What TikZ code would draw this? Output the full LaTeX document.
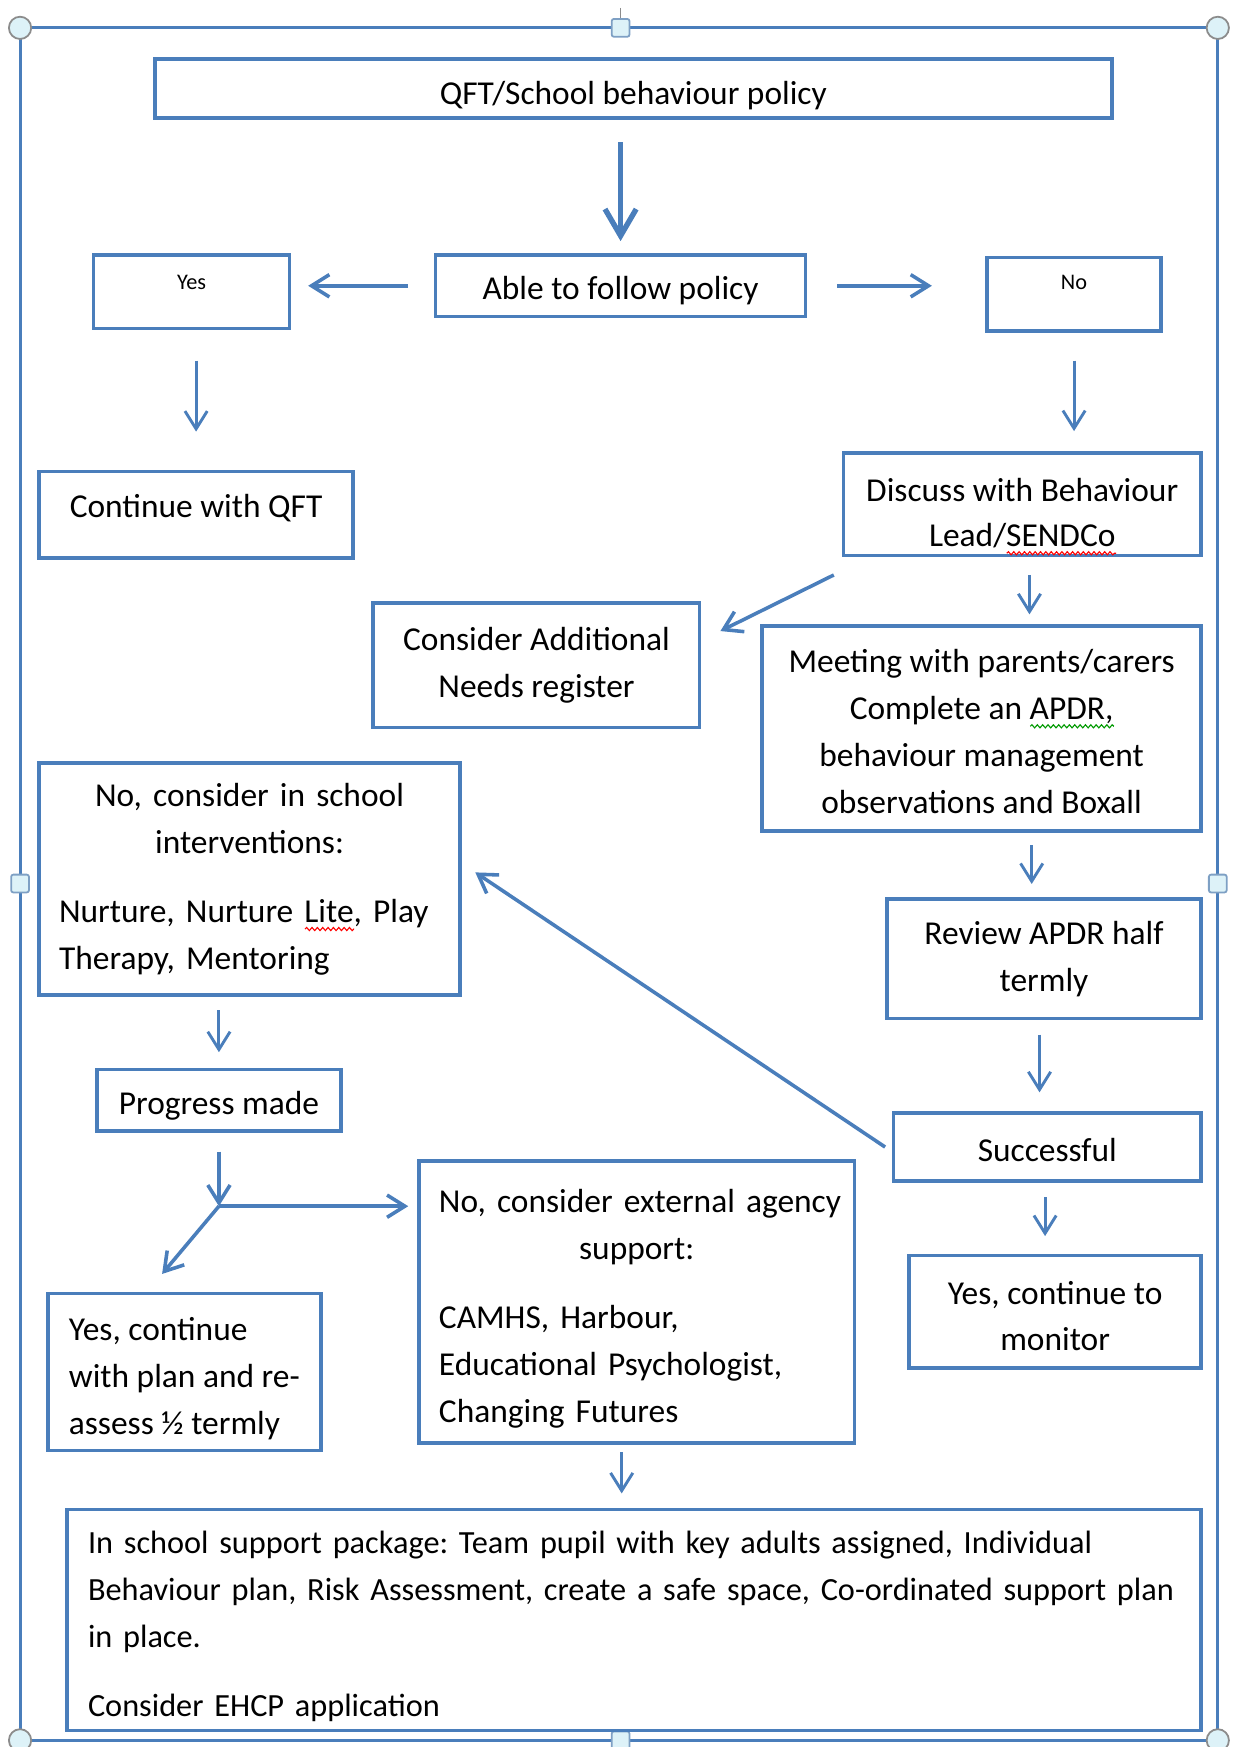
\documentclass[tikz,border=0pt]{standalone}
\usepackage{fontspec}
\setmainfont{Carlito}
\usepackage{tikz}
\usetikzlibrary{positioning,arrows.meta,decorations.pathmorphing}
\definecolor{wordblue}{RGB}{74,126,187}
\definecolor{handlefill}{RGB}{221,242,248}
\definecolor{handlegrey}{RGB}{140,140,140}
\definecolor{handleblue}{RGB}{126,160,196}
\frenchspacing
\newsavebox\wavebox
\newcommand\wavyword[2]{\sbox\wavebox{#2}\rlap{\tikz[baseline=0pt]\draw[#1, line width=0.5pt, decorate, decoration={snake, amplitude=0.7pt, segment length=2.4pt}] (0pt,-3pt) -- (\wd\wavebox,-3pt);}\usebox\wavebox}

\begin{document}
\begin{tikzpicture}[x=0.5pt, y=-0.5pt,
boxnode/.style={rectangle, draw=wordblue, line width=1.6pt, align=center, font=\fontsize{15}{21}\selectfont},
smallnode/.style={boxnode, font=\fontsize{10}{12}\selectfont},
linkarrow/.style={draw=wordblue, line width=1.3pt, -{Straight Barb[length=8pt,width=10pt]}},
midarrow/.style={linkarrow, line width=1.6pt},
boldarrow/.style={linkarrow, line width=2.4pt, -{Straight Barb[length=12pt,width=14pt]}}
]
\useasboundingbox (0,0) rectangle (1107,1568);

\draw[wordblue, line width=1.3pt] (18,25) rectangle (1093,1562);
\draw[handlegrey, line width=0.6pt] (557,7) -- (557,17);
\foreach \hx/\hy in {18/25, 1093/25, 18/1562, 1093/1562}
  \draw[handlegrey, fill=handlefill, line width=0.8pt] (\hx,\hy) circle (5pt);
\foreach \hx/\hy in {557/25, 18/793, 1093/793, 557/1562}
  \draw[handleblue, fill=handlefill, line width=0.8pt, rounded corners=1pt] (\hx-8,\hy-8) rectangle (\hx+8,\hy+8);

\node[boxnode, minimum width=429.5pt, minimum height=26.5pt] (qft) at (568.5,79.5) {\rule{0pt}{16.5pt}QFT/School behaviour policy};
\node[boxnode, minimum width=166pt, minimum height=27.5pt] (able) at (557,256.5) {\rule{0pt}{14.5pt}Able to follow policy};
\node[smallnode, minimum width=88pt, minimum height=33pt, text height=7pt, text depth=9.6pt] (yes) at (172,262) {Yes};
\node[smallnode, minimum width=78pt, minimum height=33pt, text height=7pt, text depth=11.6pt] (no) at (964,264) {No};
\node[boxnode, minimum width=141pt, minimum height=39pt, text height=10pt, text depth=7.4pt] (cont) at (176,462) {Continue with QFT};
\node[boxnode, minimum width=160.5pt, minimum height=45.5pt, inner ysep=0pt] (discuss) at (917.5,452.5) {\rule{0pt}{22pt}Discuss with Behaviour\\[-1pt]Lead/\wavyword{red}{SENDCo}\rule[-3.5pt]{0pt}{3.5pt}};
\node[boxnode, minimum width=146.5pt, minimum height=56pt] (addneeds) at (481.5,597) {Consider Additional\\Needs register};
\node[boxnode, minimum width=197pt, minimum height=92pt] (meeting) at (881,654) {\rule{0pt}{13pt}Meeting with parents/carers\\Complete an \wavyword{green!60!black}{APDR,}\\behaviour management\\observations and Boxall};
\node[boxnode, minimum width=141pt, minimum height=53.5pt] (review) at (937,860.5) {Review APDR half\\termly};
\node[boxnode, minimum width=138pt, minimum height=30.5pt] (success) at (940,1029.5) {\rule{0pt}{13pt}Successful};
\node[boxnode, minimum width=131pt, minimum height=50.5pt] (monitor) at (947,1177.5) {\rule{0pt}{14pt}Yes, continue to\\monitor};
\node[boxnode, minimum width=189pt, minimum height=104pt, align=left, inner xsep=9pt, text width=171pt] (inschool) at (224,789)
  {\centering No, consider in school\\interventions:\par\vspace{10pt}\raggedright Nurture, Nurture \wavyword{red}{Lite}, Play\\Therapy, Mentoring};
\node[boxnode, minimum width=109.5pt, minimum height=27.5pt] (progress) at (196.5,987.5) {\rule{0pt}{15.5pt}Progress made};
\node[boxnode, minimum width=122.5pt, minimum height=70.5pt, align=left] (contplan) at (165.5,1231.5) {\rule{0pt}{16pt}Yes, continue\\with plan and re-\\assess ½ termly};
\node[boxnode, minimum width=195.5pt, minimum height=126.5pt, align=left, inner xsep=9pt, text width=177.5pt] (external) at (571.5,1168.5)
  {\centering\rule{0pt}{16.5pt}\mbox{No, consider external agency}\\support:\par\vspace{10pt}\raggedright CAMHS, Harbour,\\Educational Psychologist,\\Changing Futures};
\node[boxnode, minimum width=509pt, minimum height=99pt, align=left, inner xsep=9.5pt, text width=490pt, font=\fontsize{14.5}{21}\selectfont] (package) at (569,1454)
  {\rule{0pt}{16pt}In school support package: Team pupil with key adults assigned, Individual\\Behaviour plan, Risk Assessment, create a safe space, Co-ordinated support plan\\in place.\par\vspace{10pt}Consider EHCP application};

\coordinate[below=33pt of progress.south] (split);

\draw[boldarrow, shorten <=10pt, shorten >=5.5pt] (able.north |- qft.south) -- (able.north);
\draw[midarrow, shorten <=11.5pt, shorten >=7.5pt] (able.west) -- (able.west -| yes.east);
\draw[midarrow, shorten <=13.5pt, shorten >=24pt] (able.east) -- (able.east -| no.west);
\draw[linkarrow, shorten <=13.5pt, shorten >=17pt] (cont.north |- yes.south) -- (cont.north);
\draw[linkarrow, shorten <=12.5pt, shorten >=9pt] (no.south) -- (no.south |- discuss.north);
\draw[midarrow] ([shift={(-3.5pt,-8pt)}]discuss.south west) -- ([shift={(8.5pt,-13.5pt)}]addneeds.north east);
\draw[linkarrow, shorten <=8pt, shorten >=4.5pt] ([xshift=3.25pt]discuss.south) -- ([xshift=3.25pt]discuss.south |- meeting.north);
\draw[linkarrow, shorten <=5.5pt, shorten >=6pt] ([xshift=-5.5pt]review.north |- meeting.south) -- ([xshift=-5.5pt]review.north);
\draw[linkarrow, shorten <=6.5pt, shorten >=8.5pt] ([xshift=-2pt]review.south) -- ([xshift=-2pt]review.south |- success.north);
\draw[midarrow] ([xshift=-3pt]success.west) -- ([shift={(6pt,3pt)}]inschool.east);
\draw[linkarrow, shorten <=6.5pt, shorten >=8pt] ([xshift=-1pt]success.south) -- ([xshift=-1pt]success.south |- monitor.north);
\draw[linkarrow, shorten <=6pt, shorten >=7pt] (progress.north |- inschool.south) -- (progress.north);
\draw[midarrow, shorten <=8.5pt] (progress.south) -- (split);
\draw[midarrow, shorten >=4pt] (split) -- (split -| external.west);
\draw[midarrow] (split) -- ([shift={(-10pt,8pt)}]contplan.north);
\draw[linkarrow, shorten <=3.5pt, shorten >=6.5pt] ([xshift=-6.75pt]external.south) -- ([xshift=-6.75pt]external.south |- package.north);
\end{tikzpicture}
\end{document}
